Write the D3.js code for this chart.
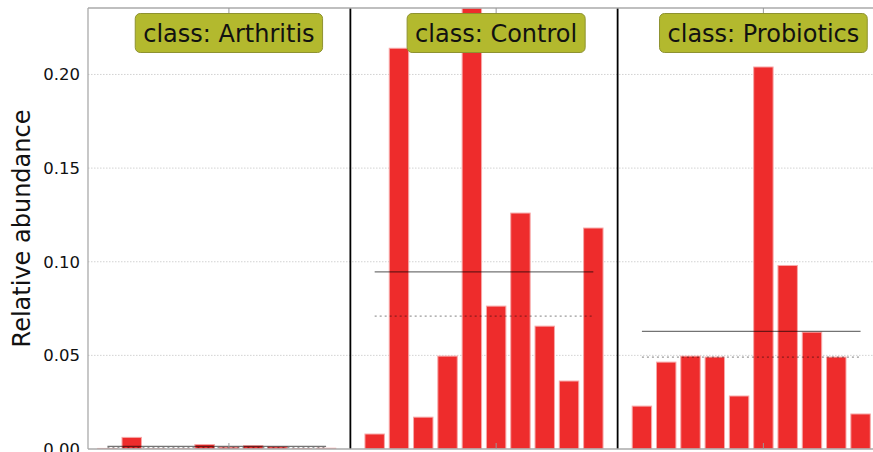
<!DOCTYPE html>
<html>
<head>
<meta charset="utf-8">
<script src="https://cdn.jsdelivr.net/npm/d3@7"></script>
<style>
  html, body { margin: 0; padding: 0; background: #fff; }
  svg { display: block; font-family: "DejaVu Sans", sans-serif; }
</style>
</head>
<body>
<svg id="chart" width="873" height="452"></svg>
<script>
// Classes and per-sample relative abundances
const classes = ["Arthritis", "Control", "Probiotics"];
const arthritisValues  = [0.0003, 0.0062, 0.0001, 0.0001, 0.0024, 0.0010, 0.0018, 0.0012, 0.0002, 0.0004];
const controlValues    = [0.0080, 0.2140, 0.0170, 0.0496, 0.2355, 0.0763, 0.1260, 0.0656, 0.0363, 0.1180];
const probioticsValues = [0.0229, 0.0464, 0.0496, 0.0491, 0.0283, 0.2040, 0.0980, 0.0624, 0.0491, 0.0187];
const yTicks = [0.00, 0.05, 0.10, 0.15, 0.20];
const yLabel = "Relative abundance";

const groups = [arthritisValues, controlValues, probioticsValues];

const svg = d3.select("#chart");
const margin = { left: 88, top: 8, bottom: 449 };
const plotRight = 880;

// Each class occupies consecutive slots, with one empty slot between classes
const slots = [];
const groupInfo = [];
let idx = 0;
groups.forEach((vals, g) => {
  const start = idx;
  vals.forEach(v => { slots.push({ i: idx, v, g }); idx++; });
  groupInfo.push({ name: classes[g], start, end: idx - 1, vals });
  idx++; // gap slot
});
const nSlots = idx - 1;

const x = d3.scaleLinear().domain([-0.8, nSlots - 1 + 0.8]).range([margin.left, plotRight]);
const yMax = d3.max(slots, d => d.v);
const y = d3.scaleLinear().domain([0, yMax]).range([margin.bottom, margin.top]);
const barW = 0.8;

svg.append("defs").append("clipPath").attr("id", "plotclip")
  .append("rect").attr("x", margin.left).attr("y", margin.top)
  .attr("width", plotRight - margin.left).attr("height", margin.bottom - margin.top);

// Grid lines
svg.append("g").selectAll("line").data(yTicks.slice(1)).join("line")
  .attr("x1", margin.left).attr("x2", plotRight)
  .attr("y1", d => y(d)).attr("y2", d => y(d))
  .attr("stroke", "#c8c8c8").attr("stroke-width", 0.8)
  .attr("stroke-dasharray", "1.5,1.5");

// Y axis
const yAxis = d3.axisLeft(y).tickValues(yTicks).tickFormat(d3.format(".2f")).tickSize(0).tickPadding(8);
const gy = svg.append("g").attr("transform", `translate(${margin.left},0)`).call(yAxis);
gy.select(".domain").remove();
gy.selectAll("text").attr("font-size", "16.5px").attr("fill", "#111")
  .attr("font-family", "DejaVu Sans, sans-serif");

// Bars
const plot = svg.append("g").attr("clip-path", "url(#plotclip)");
plot.selectAll("rect.bar").data(slots).join("rect")
  .attr("class", "bar")
  .attr("x", d => x(d.i - barW / 2))
  .attr("width", x(barW) - x(0))
  .attr("y", d => y(d.v))
  .attr("height", d => y(0) - y(d.v))
  .attr("fill", "#ee2c2c")
  .attr("stroke", "#f7a8a8")
  .attr("stroke-width", 1);

// Mean (solid) and median (dotted) lines per class
groupInfo.forEach(gi => {
  const m = d3.mean(gi.vals), md = d3.median(gi.vals);
  plot.append("line")
    .attr("x1", x(gi.start)).attr("x2", x(gi.end))
    .attr("y1", y(m)).attr("y2", y(m))
    .attr("stroke", "#000").attr("stroke-opacity", 0.55).attr("stroke-width", 1.3);
  plot.append("line")
    .attr("x1", x(gi.start)).attr("x2", x(gi.end))
    .attr("y1", y(md)).attr("y2", y(md))
    .attr("stroke", "#000").attr("stroke-opacity", 0.4).attr("stroke-width", 1.3)
    .attr("stroke-dasharray", "2,3");
});

// Class separators
for (let g = 1; g < groupInfo.length; g++) {
  const sx = x(groupInfo[g].start - 1);
  svg.append("line")
    .attr("x1", sx).attr("x2", sx).attr("y1", margin.top).attr("y2", margin.bottom)
    .attr("stroke", "#000").attr("stroke-width", 1.8);
}

// Frame
svg.append("line").attr("x1", margin.left).attr("x2", margin.left)
  .attr("y1", margin.top).attr("y2", margin.bottom).attr("stroke", "#aaa").attr("stroke-width", 1.3);
svg.append("line").attr("x1", margin.left).attr("x2", plotRight)
  .attr("y1", margin.top).attr("y2", margin.top).attr("stroke", "#aaa").attr("stroke-width", 1.3);
svg.append("line").attr("x1", margin.left).attr("x2", plotRight)
  .attr("y1", margin.bottom).attr("y2", margin.bottom).attr("stroke", "#aaa").attr("stroke-width", 1.3);

// Class tick marks (top and bottom) at the middle slot of each class
groupInfo.forEach(gi => {
  const tx = x(gi.start + Math.floor(gi.vals.length / 2));
  gi.tx = tx;
  svg.append("line").attr("x1", tx).attr("x2", tx).attr("y1", margin.top).attr("y2", margin.top + 6)
    .attr("stroke", "#999").attr("stroke-width", 1);
  svg.append("line").attr("x1", tx).attr("x2", tx).attr("y1", margin.bottom).attr("y2", margin.bottom - 6)
    .attr("stroke", "#999").attr("stroke-width", 1);
});

// Class labels in rounded boxes
groupInfo.forEach(gi => {
  const g = svg.append("g");
  const t = g.append("text")
    .attr("x", gi.tx).attr("y", 41.5)
    .attr("text-anchor", "middle")
    .attr("font-size", "24px").attr("fill", "#111")
    .text("class: " + gi.name);
  const w = t.node().getComputedTextLength();
  g.insert("rect", "text")
    .attr("x", gi.tx - w / 2 - 8).attr("y", 13.5)
    .attr("width", w + 16).attr("height", 39)
    .attr("rx", 5).attr("ry", 5)
    .attr("fill", "#b3b92e").attr("stroke", "#8e9230").attr("stroke-width", 1);
});

// Y axis title
svg.append("text")
  .attr("transform", `translate(30,${(margin.top + margin.bottom) / 2}) rotate(-90)`)
  .attr("text-anchor", "middle")
  .attr("font-size", "24px").attr("fill", "#111")
  .text(yLabel);
</script>
</body>
</html>
